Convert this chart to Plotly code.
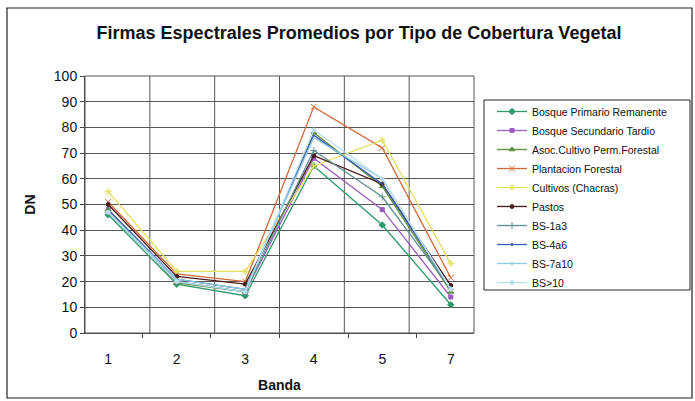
import plotly.graph_objects as go

# Spectral bands on the x axis and mean digital numbers per land-cover class
bandas = ["1", "2", "3", "4", "5", "7"]

bosque_primario = [46, 19, 14.5, 65, 42, 11]
bosque_secundario = [48, 20, 16, 68, 48, 14]
asoc_cultivo = [48, 19.5, 16, 78, 57, 16]
plantacion = [51, 23, 20, 88, 72, 21.5]
cultivos = [55, 24, 24, 65, 75, 27]
pastos = [50, 22, 19, 69, 58, 18.5]
bs_1a3 = [47, 20, 16, 71, 53, 17]
bs_4a6 = [48, 21, 17, 77, 58, 17]
bs_7a10 = [47, 21, 17, 76, 60, 17]
bs_10 = [47, 20, 16, 79, 60, 17]

series = [
    ("Bosque Primario Remanente", bosque_primario, "#2f9a6a", "diamond", 5),
    ("Bosque Secundario Tardio", bosque_secundario, "#9a5cc0", "square", 4),
    ("Asoc.Cultivo Perm.Forestal", asoc_cultivo, "#5f8f3a", "triangle-up", 5),
    ("Plantacion Forestal", plantacion, "#d0683a", "x-thin-open", 6),
    ("Cultivos (Chacras)", cultivos, "#e2e05a", "asterisk-open", 6),
    ("Pastos", pastos, "#4a1c1c", "circle", 4),
    ("BS-1a3", bs_1a3, "#5f9090", "cross-thin-open", 5),
    ("BS-4a6", bs_4a6, "#3a5cae", "circle", 0.1),
    ("BS-7a10", bs_7a10, "#8cc8e0", "circle", 0.1),
    ("BS>10", bs_10, "#bcdff0", "circle", 4),
]

fig = go.Figure()
for name, vals, color, sym, size in series:
    fig.add_trace(go.Scatter(
        x=bandas, y=vals, name=name, mode="lines+markers",
        line=dict(color=color, width=1.3),
        marker=dict(symbol=sym, size=size, color=color,
                    line=dict(color=color, width=1)),
    ))

W, H = 695, 401
L, R, T, B = 85, 474, 76, 333


def px(x):
    return (x - L) / (R - L)


def py(y):
    return (B - y) / (B - T)


shapes = [
    # outer chart frame
    dict(type="rect", xref="paper", yref="paper",
         x0=px(7), x1=px(692), y0=py(398), y1=py(8),
         line=dict(color="#222", width=1.2)),
    # legend frame
    dict(type="rect", xref="paper", yref="paper",
         x0=px(484), x1=px(690), y0=py(290), y1=py(100),
         line=dict(color="#222", width=1)),
    # plot area frame
    dict(type="rect", xref="paper", yref="paper",
         x0=0, x1=1, y0=0, y1=1, line=dict(color="#555", width=1)),
]

fig.update_layout(
    width=W, height=H,
    margin=dict(l=L, r=W - R, t=T, b=H - B),
    paper_bgcolor="white", plot_bgcolor="white",
    font=dict(family="Liberation Sans, Arial", color="#111"),
    title=dict(text="<b>Firmas Espectrales Promedios por Tipo de Cobertura Vegetal</b>",
               x=px(359), xanchor="center", xref="paper",
               y=1 - 33 / H, yanchor="middle",
               font=dict(size=18, color="#111")),
    xaxis=dict(type="category", showgrid=False, ticks="outside",
               tickson="boundaries", ticklen=4, tickcolor="#444",
               ticklabelstandoff=13, automargin=False,
               showline=True, linecolor="#444",
               tickfont=dict(size=14, color="#111"),
               title=dict(text="<b>Banda</b>", font=dict(size=14), standoff=14)),
    yaxis=dict(range=[0, 100], dtick=10, showgrid=True, gridcolor="#555",
               gridwidth=1, ticks="outside", ticklen=4, tickcolor="#444",
               showline=True, linecolor="#444", zeroline=False,
               automargin=False,
               tickfont=dict(size=14, color="#111"),
               title=dict(text="<b>DN</b>", font=dict(size=14), standoff=14)),
    legend=dict(x=px(492), y=py(97), xanchor="left", yanchor="top",
                bgcolor="rgba(0,0,0,0)", borderwidth=0,
                font=dict(size=10.5, color="#111"), tracegroupgap=0,
                itemwidth=30),
    shapes=shapes,
)

# vertical gridlines between band categories
for i in range(1, len(bandas)):
    fig.add_shape(type="line", xref="paper", yref="paper",
                  x0=i / len(bandas), x1=i / len(bandas), y0=0, y1=1,
                  line=dict(color="#555", width=1), layer="below")

fig.write_html("out.html")
